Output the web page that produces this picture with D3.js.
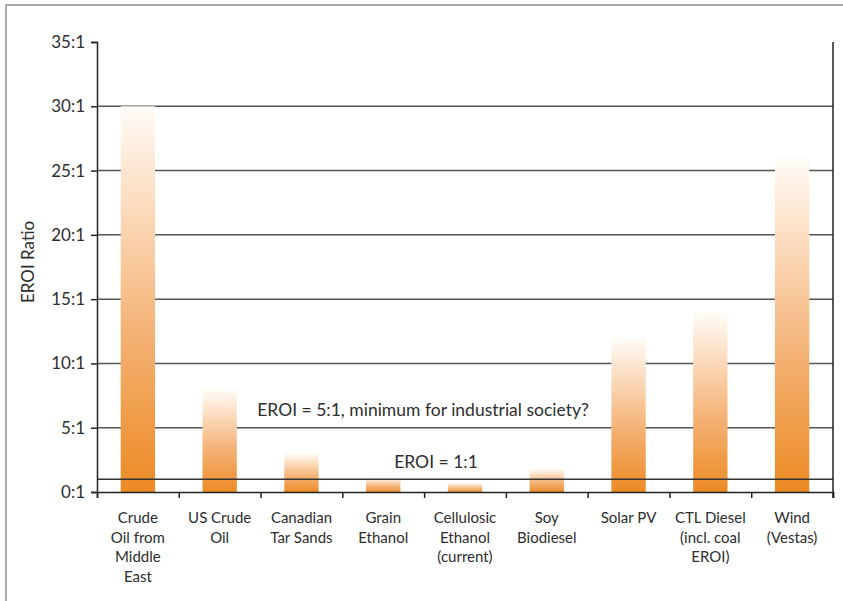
<!DOCTYPE html>
<html>
<head>
<meta charset="utf-8">
<script src="https://cdn.jsdelivr.net/npm/d3@7/dist/d3.min.js"></script>
<style>
  html, body { margin: 0; padding: 0; background: #fff; }
  svg { display: block; }
  text { font-family: Lato, "Open Sans", sans-serif; fill: #2e2e2e; }
</style>
</head>
<body>
<svg id="chart" width="843" height="601"></svg>
<script>
// Energy return on investment by fuel source
const categories = [
  "Crude\nOil from\nMiddle\nEast",
  "US Crude\nOil",
  "Canadian\nTar Sands",
  "Grain\nEthanol",
  "Cellulosic\nEthanol\n(current)",
  "Soy\nBiodiesel",
  "Solar PV",
  "CTL Diesel\n(incl. coal\nEROI)",
  "Wind\n(Vestas)"
];
const eroiValues = [30, 8, 3, 1.1, 0.7, 1.8, 12, 14, 26];
const yTicks = [0, 5, 10, 15, 20, 25, 30, 35];
const yTickLabels = ["0:1", "5:1", "10:1", "15:1", "20:1", "25:1", "30:1", "35:1"];
const referenceLines = [
  { value: 1, label: "EROI = 1:1" },
  { value: 5, label: "EROI = 5:1, minimum for industrial society?" }
];
const yAxisTitle = "EROI Ratio";

const svg = d3.select("#chart");
const margin = { top: 42, right: 10, bottom: 109, left: 97 };
const plotW = 833 - margin.left;
const plotH = 492 - margin.top;

// Outer frame
svg.append("path")
  .attr("d", "M6,605 V5 H850")
  .attr("fill", "none")
  .attr("stroke", "#8c8c8c")
  .attr("stroke-width", 1.5);

const g = svg.append("g").attr("transform", `translate(${margin.left},${margin.top})`);

const x = d3.scaleBand().domain(d3.range(categories.length)).range([0, plotW]).paddingInner(0.58).paddingOuter(0.29);
const xBoundary = d3.scaleLinear().domain([0, categories.length]).range([0, plotW]);
const y = d3.scaleLinear().domain([0, 35]).range([plotH, 0]);

// Gradient fill for the bars
const defs = svg.append("defs");
const grad = defs.append("linearGradient")
  .attr("id", "barGrad").attr("x1", 0).attr("y1", 0).attr("x2", 0).attr("y2", 1);
grad.append("stop").attr("offset", "0%").attr("stop-color", "#fffcf8");
grad.append("stop").attr("offset", "25%").attr("stop-color", "#fbdcbf");
grad.append("stop").attr("offset", "60%").attr("stop-color", "#f4b071");
grad.append("stop").attr("offset", "100%").attr("stop-color", "#ec8a24");

// Horizontal gridlines (all ticks except the top one)
g.append("g").selectAll("line")
  .data(yTicks.filter(t => t > 0 && t < 35))
  .join("line")
  .attr("x1", 0).attr("x2", plotW)
  .attr("y1", d => y(d)).attr("y2", d => y(d))
  .attr("stroke", "#555").attr("stroke-width", 1.5);

// Bars
g.append("g").selectAll("rect")
  .data(eroiValues)
  .join("rect")
  .attr("x", (d, i) => x(i))
  .attr("width", x.bandwidth())
  .attr("y", d => y(d))
  .attr("height", d => y(0) - y(d) + 1)
  .attr("fill", "url(#barGrad)");

// Reference lines and labels
g.append("line")
  .attr("x1", 0).attr("x2", plotW)
  .attr("y1", y(referenceLines[0].value)).attr("y2", y(referenceLines[0].value))
  .attr("stroke", "#333").attr("stroke-width", 1.5);

g.append("text")
  .attr("x", 326).attr("y", y(referenceLines[1].value) - 12)
  .attr("text-anchor", "middle")
  .attr("font-size", 17.5)
  .text(referenceLines[1].label);

g.append("text")
  .attr("x", 339).attr("y", y(referenceLines[0].value) - 11)
  .attr("text-anchor", "middle")
  .attr("font-size", 17.5)
  .text(referenceLines[0].label);

// Left axis
const yAxis = d3.axisLeft(y).tickValues(yTicks).tickSize(6).tickPadding(6)
  .tickFormat((d, i) => yTickLabels[i]);
const ya = g.append("g").call(yAxis);
ya.select(".domain").attr("stroke", "#222").attr("stroke-width", 1.5);
ya.selectAll(".tick line").attr("stroke", "#222").attr("stroke-width", 1.5);
ya.selectAll(".tick text").attr("font-size", 17).style("font-family", "Lato, sans-serif").attr("fill", "#333");

// Right axis line
g.append("line")
  .attr("x1", plotW).attr("x2", plotW).attr("y1", 0).attr("y2", plotH + 6)
  .attr("stroke", "#222").attr("stroke-width", 1.5);

// Bottom axis with ticks at category boundaries
const xAxis = d3.axisBottom(xBoundary).tickValues(d3.range(categories.length + 1))
  .tickSize(6).tickFormat("");
const xa = g.append("g").attr("transform", `translate(0,${plotH})`).call(xAxis);
xa.select(".domain").attr("stroke", "#222").attr("stroke-width", 1.5);
xa.selectAll(".tick line").attr("stroke", "#222").attr("stroke-width", 1.5);

// Category labels
const labels = g.append("g").selectAll("text")
  .data(categories)
  .join("text")
  .attr("x", (d, i) => x(i) + x.bandwidth() / 2)
  .attr("y", plotH + 31)
  .attr("text-anchor", "middle")
  .attr("font-size", 15);
labels.each(function(d, i) {
  const t = d3.select(this);
  d.split("\n").forEach((line, k) => {
    t.append("tspan")
      .attr("x", x(i) + x.bandwidth() / 2)
      .attr("dy", k === 0 ? 0 : 19.5)
      .text(line);
  });
});

// Y-axis title
svg.append("text")
  .attr("transform", `translate(34,262) rotate(-90)`)
  .attr("text-anchor", "middle")
  .attr("font-size", 17)
  .text(yAxisTitle);
</script>
</body>
</html>
